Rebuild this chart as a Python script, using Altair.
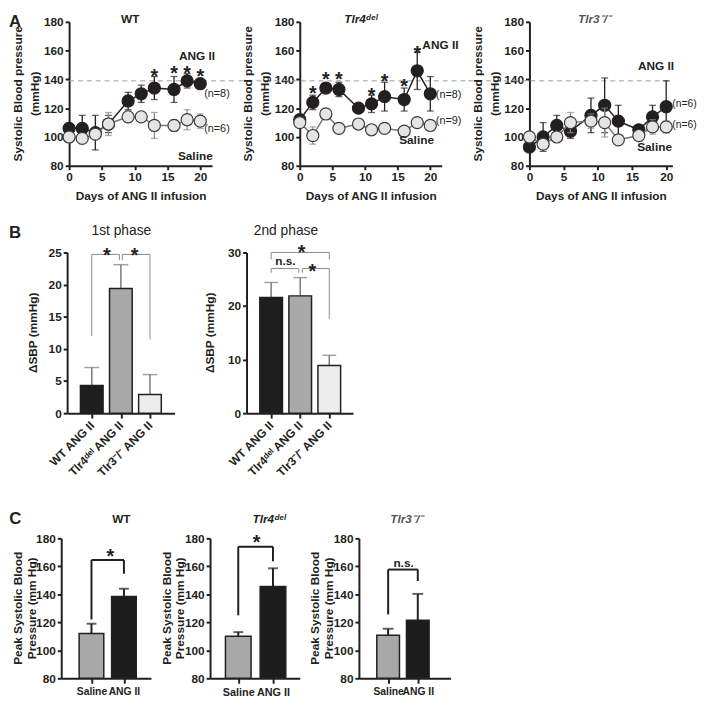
import json
import altair as alt
import pandas as pd

FONT = "Liberation Sans"
INK = "#231f20"

# ---------------- Panel A : time courses ----------------
days = [0, 2, 4, 6, 9, 11, 13, 16, 18, 20]

wt_ang = [106, 106, 103, 109, 125, 130, 134, 133, 139, 137]
wt_ang_err = [2, 9, 12, 6, 6, 6, 8, 9, 5, 3]
wt_sal = [100, 99, 102, 109, 114, 114, 108, 108, 112, 111]
wt_sal_err = [2, 3, 3, 8, 4, 3, 9, 4, 7, 5]
wt_star_days = [13, 16, 18, 20]
wt_star_y = [148, 149.7, 149.7, 148]

t4_ang = [112, 124, 134, 133, 120, 123, 128, 126, 146, 130]
t4_ang_err = [3, 5, 2, 5, 3, 6, 10, 8, 13, 12]
t4_sal = [110, 101, 116, 106, 109, 105, 106, 104, 110, 108]
t4_sal_err = [2, 6, 2, 2, 3, 1, 1, 1, 1, 2]
t4_star_days = [2, 4, 6, 11, 13, 16, 18]
t4_star_y = [136, 145.7, 145.7, 134.3, 144, 141, 163.7]

t3_ang = [93, 100, 108, 104, 115, 122, 111, 105, 114, 121]
t3_ang_err = [3, 10, 7, 5, 12, 19, 11, 2, 8, 18]
t3_sal = [100, 95, 100, 110, 111, 110, 98, 101, 107, 107]
t3_sal_err = [2, 3, 2, 7, 5, 10, 3, 2, 5, 4]

# annotation texts: (text, day, value)
wt_bold = [("ANG II", 19.5, 156), ("Saline", 19.25, 87)]
wt_n = [("(n=8)", 20.6, 130), ("(n=6)", 20.6, 105.5)]
t4_bold = [("ANG II", 21.55, 164), ("Saline", 17.9, 98)]
t4_n = [("(n=8)", 20.85, 129), ("(n=9)", 20.85, 110.8)]
t3_bold = [("ANG II", 18.5, 149), ("Saline", 18.3, 92.7)]
t3_n = [("(n=6)", 20.9, 123), ("(n=6)", 20.9, 108)]

threshold = 139
a_xticks = [0, 5, 10, 15, 20]
a_yticks = [80, 100, 120, 140, 160, 180]

# ---------------- Panel B : delta SBP ----------------
b_cats = ["WT ANG II", "Tlr4\u1d48\u1d49\u02e1 ANG II", "Tlr3\u207b/\u207b ANG II"]
b_colors = ["#1e1e1e", "#a9a9a9", "#ececec"]
b1_vals = [4.3, 19.4, 2.9]
b1_err = [2.8, 3.7, 3.1]
b2_vals = [21.6, 21.9, 8.9]
b2_err = [2.8, 3.4, 1.9]
# bracket segments: x, x2, y, y2
b1_brackets = [
    (0, 0, 12, 24.7), (0, 0.95, 24.7, 24.7), (0.95, 0.95, 23.8, 24.7),
    (1.05, 1.05, 23.8, 24.7), (1.05, 2, 24.7, 24.7), (2, 2, 11.5, 24.7),
]
b1_stars = [(0.52, 25.8), (1.47, 25.8)]
b1_ns = []
b2_brackets = [
    (0, 0, 28.7, 30), (0, 2, 30, 30), (2, 2, 28.7, 30),
    (0, 0, 26.2, 27), (0, 0.95, 27, 27), (0.95, 0.95, 26.2, 27),
    (1.07, 1.07, 26.2, 27), (1.07, 2, 27, 27), (2, 2, 17.6, 27),
]
b2_stars = [(1.05, 31.5), (1.42, 28.0)]
b2_ns = [(0.49, 28.4)]

# ---------------- Panel C : peak SBP ----------------
c_cats = ["Saline", "ANG II"]
c_colors = ["#a8a8a8", "#1c1c1c"]
cwt_vals = [112, 138.5]
cwt_err = [7, 5.5]
ct4_vals = [110, 145.6]
ct4_err = [3, 13]
ct3_vals = [110.8, 121.5]
ct3_err = [4.6, 18.8]
cwt_brackets = [(0, 0, 122, 164.5), (0, 1, 164.5, 164.5), (1, 1, 154.7, 164.5)]
ct4_brackets = [(0, 0, 125, 174), (0, 1, 174, 174), (1, 1, 163.6, 174)]
ct3_brackets = [(0, 0, 125.6, 157.7), (0, 1, 157.7, 157.7), (1, 1, 149.5, 157.7)]
cwt_stars = [(0.58, 173.2)]
ct4_stars = [(0.53, 182.6)]
ct3_ns = [(0.52, 162.4)]

TLR4 = "Tlr4\u1d48\u1d49\u02e1"
TLR3 = "Tlr3\u207b/\u207b"
A_YTITLE = ["Systolic Blood pressure", "(mmHg)"]
B_YTITLE = ["\u0394SBP (mmHg)"]
C_YTITLE = ["Peak Systolic Blood", "Pressure (mm Hg)"]


def text_layer(t, x, y, size, weight="bold", style="normal", color=INK, align="left",
               baseline="alphabetic", opacity=1, angle=0):
    return alt.Chart(pd.DataFrame({"t": [t]})).mark_text(
        fontSize=size, fontWeight=weight, fontStyle=style, align=align, baseline=baseline,
        font=FONT, color=color, opacity=opacity, angle=angle
    ).encode(text="t:N", x=alt.value(x), y=alt.value(y))


def ytitle_layers(lines, xs, height):
    return [text_layer(t, x, height / 2, 12, align="center", baseline="middle", angle=270)
            for t, x in zip(lines, xs)]


def frame_layers(width, height, box):
    """Invisible markers fixing the layout box of a panel: (left, right, top, bottom) offsets."""
    left, right, top, bottom = box
    out = []
    if left is not None:
        out.append(text_layer(".", -left, height / 2, 1, opacity=0, align="left", baseline="top"))
    if right is not None:
        out.append(text_layer(".", width + right, height / 2, 1, opacity=0, align="right", baseline="top"))
    if top is not None:
        out.append(text_layer(".", 0, -top, 1, opacity=0, align="left", baseline="top"))
    if bottom is not None:
        out.append(text_layer(".", 0, height + bottom - 1, 1, opacity=0, align="left", baseline="top"))
    return out


def dummy_view():
    """Empty 1px view at the start of each row so that rows line up by their left edges."""
    return text_layer(".", 0, 0, 1, opacity=0, align="left", baseline="top").properties(width=1, height=1)


def time_panel(title, tstyle, tcolor, tx, ang, ang_err, sal, sal_err, sdays, sy,
               lab_bold, lab_n, n_size, xmax, width, dash_from, dash_to, box, letter=None):
    height = 146
    xs = alt.Scale(domain=[0, xmax], nice=False, zero=False)
    ys = alt.Scale(domain=[80, 180], nice=False, zero=False)
    xax = alt.Axis(values=a_xticks, title="Days of ANG II infusion", titlePadding=8, tickSize=4)
    yax = alt.Axis(values=a_yticks, title=None, tickSize=4)

    def X(f):
        return alt.X(f, type="quantitative", scale=xs, axis=xax)

    def Y(f):
        return alt.Y(f, type="quantitative", scale=ys, axis=yax)

    def frame(v, e):
        return pd.DataFrame({"day": days, "v": v,
                             "lo": [a - b for a, b in zip(v, e)],
                             "hi": [a + b for a, b in zip(v, e)]})

    ang_df = frame(ang, ang_err)
    sal_df = frame(sal, sal_err)
    layers = [alt.Chart(pd.DataFrame({"y": [threshold]})).mark_rule(
        strokeDash=[5, 4], color="#9a9a9a", strokeWidth=1
    ).encode(y=Y("y"), x=alt.value(dash_from), x2=alt.value(dash_to))]

    def series(df, line_c, err_c, fill_c, stroke_c):
        out = []
        out.append(alt.Chart(df).mark_line(color=line_c, strokeWidth=1.5).encode(x=X("day"), y=Y("v")))
        out.append(alt.Chart(df).mark_rule(color=err_c, strokeWidth=1.3).encode(
            x=X("day"), y=Y("lo"), y2=alt.Y2("hi")))
        out.append(alt.Chart(df).transform_fold(["lo", "hi"], as_=["k", "cap"]).mark_tick(
            orient="horizontal", size=7, thickness=1.3, color=err_c
        ).encode(x=X("day"), y=Y("cap:Q")))
        out.append(alt.Chart(df).mark_point(
            shape="circle", filled=True, size=150, fill=fill_c, stroke=stroke_c,
            strokeWidth=1.2, opacity=1
        ).encode(x=X("day"), y=Y("v")))
        return out

    layers += series(ang_df, INK, INK, INK, INK)
    layers += series(sal_df, "#777777", "#8a8a8a", "#e4e4e4", "#3a3a3a")

    if sdays:
        layers.append(alt.Chart(pd.DataFrame({"day": sdays, "v": sy})).mark_text(
            text="*", fontSize=20, fontWeight="bold", font=FONT, color=INK, dy=9
        ).encode(x=X("day"), y=Y("v")))
    layers.append(alt.Chart(pd.DataFrame(lab_bold, columns=["t", "day", "v"])).mark_text(
        fontSize=12, fontWeight="bold", font=FONT, color=INK, align="center", baseline="middle"
    ).encode(x=X("day"), y=Y("v"), text="t:N"))
    layers.append(alt.Chart(pd.DataFrame(lab_n, columns=["t", "day", "v"])).mark_text(
        fontSize=n_size, fontWeight="normal", font=FONT, color=INK, align="left", baseline="middle"
    ).encode(x=X("day"), y=Y("v"), text="t:N"))
    layers.append(text_layer(title, tx, 1, 12, style=tstyle, color=tcolor, align="center"))
    layers += ytitle_layers(A_YTITLE, [-52, -35], height)
    if letter:
        layers.append(text_layer(letter, -61, -8, 17, align="left", baseline="top"))
    layers += frame_layers(width, height, box)
    return alt.layer(*layers).properties(width=width, height=height)


def bar_panel(title, tpos, tsize, tweight, tstyle, tcolor, cats, colors, vals, errs, ydom, yticks,
              ytitle, ytx, xdom, width, height, bar_size, cap_size, err_color, err_w,
              br, br_color, br_w, stars, ns, label_angle, box, letter=None, letter_pos=(0, 0),
              xlabel_size=11):
    xs = alt.Scale(domain=xdom, nice=False, zero=False)
    ys = alt.Scale(domain=ydom, nice=False, zero=False)
    expr = json.dumps(cats, ensure_ascii=False) + "[datum.value]"
    if label_angle:
        xax = alt.Axis(values=list(range(len(cats))), labelExpr=expr, title=None,
                       labelAngle=label_angle, labelAlign="right", labelBaseline="middle",
                       labelPadding=5, labelOverlap=False)
    else:
        xax = alt.Axis(values=list(range(len(cats))), labelExpr=expr, title=None,
                       labelPadding=3, labelOverlap=False, labelFontSize=xlabel_size)
    yax = alt.Axis(values=yticks, title=None, tickSize=4)

    def X(f):
        return alt.X(f, type="quantitative", scale=xs, axis=xax)

    def Y(f):
        return alt.Y(f, type="quantitative", scale=ys, axis=yax)

    df = pd.DataFrame({"pos": list(range(len(cats))), "v": vals,
                       "base": [ydom[0]] * len(cats),
                       "hi": [a + b for a, b in zip(vals, errs)], "c": colors})
    layers = [
        alt.Chart(df).mark_rule(color=err_color, strokeWidth=err_w).encode(
            x=X("pos"), y=Y("v"), y2=alt.Y2("hi")),
        alt.Chart(df).mark_tick(orient="horizontal", size=cap_size, thickness=err_w,
                                color=err_color).encode(x=X("pos"), y=Y("hi")),
        alt.Chart(df).mark_bar(size=bar_size, stroke=INK, strokeWidth=1.5).encode(
            x=X("pos"), y=Y("v"), y2=alt.Y2("base"), color=alt.Color("c:N", scale=None)),
        alt.Chart(pd.DataFrame(br, columns=["x", "x2", "y", "y2"])).mark_rule(
            color=br_color, strokeWidth=br_w).encode(
            x=X("x"), x2=alt.X2("x2"), y=Y("y"), y2=alt.Y2("y2")),
    ]
    if stars:
        layers.append(alt.Chart(pd.DataFrame(stars, columns=["x", "y"])).mark_text(
            text="*", fontSize=20, fontWeight="bold", font=FONT, color=INK, dy=9
        ).encode(x=X("x"), y=Y("y")))
    if ns:
        layers.append(alt.Chart(pd.DataFrame(ns, columns=["x", "y"])).mark_text(
            text="n.s.", fontSize=12, fontWeight="bold", font=FONT, color=INK, baseline="middle"
        ).encode(x=X("x"), y=Y("y")))
    layers.append(text_layer(title, tpos[0], tpos[1], tsize, weight=tweight, style=tstyle,
                             color=tcolor, align="center"))
    layers += ytitle_layers(ytitle, ytx, height)
    if letter:
        layers.append(text_layer(letter, letter_pos[0], letter_pos[1], 17, align="left", baseline="top"))
    layers += frame_layers(width, height, box)
    return alt.layer(*layers).properties(width=width, height=height)


# ---------------- Row A ----------------
a1 = time_panel("WT", "normal", INK, 62, wt_ang, wt_ang_err, wt_sal, wt_sal_err,
                wt_star_days, wt_star_y, wt_bold, wt_n, 11, 21.8, 145, 0, 170,
                (61, 25, 9, 40), letter="A")
a2 = time_panel(TLR4, "italic", INK, 62, t4_ang, t4_ang_err, t4_sal, t4_sal_err,
                t4_star_days, t4_star_y, t4_bold, t4_n, 11, 21.75, 144, -62, 169,
                (62, 25, None, None))
a3 = time_panel(TLR3, "italic", "#555555", 66, t3_ang, t3_ang_err, t3_sal, t3_sal_err,
                [], [], t3_bold, t3_n, 10.5, 20.9, 145, -62, 145,
                (62, None, None, None))
rowA = alt.hconcat(dummy_view(), a1, a2, a3, spacing=0)

# ---------------- Row B ----------------
b1 = bar_panel("1st phase", (55, -18), 14, "normal", "normal", INK, b_cats, b_colors, b1_vals, b1_err,
               [0, 25], [0, 5, 10, 15, 20, 25], B_YTITLE, [-35], [-0.677, 2.677], 109, 163,
               23, 15, "#7a7a7a", 1.5, b1_brackets, "#8a8a8a", 1, b1_stars, b1_ns, 315,
               (59, 23, 48, 74), letter="B", letter_pos=(-59, -28))
b2 = bar_panel("2nd phase", (40, -18), 14, "normal", "normal", INK, b_cats, b_colors, b2_vals, b2_err,
               [0, 30], [0, 10, 20, 30], B_YTITLE, [-37], [-0.677, 2.646], 108, 163,
               23, 14, "#7a7a7a", 1.5, b2_brackets, "#8a8a8a", 1, b2_stars, b2_ns, 315,
               (50, None, None, None))
rowB = alt.hconcat(dummy_view(), b1, b2, spacing=0)

# ---------------- Row C ----------------
c1 = bar_panel("WT", (61, -15.7), 12, "bold", "normal", INK, c_cats, c_colors, cwt_vals, cwt_err,
               [80, 180], a_yticks, C_YTITLE, [-44, -30], [-0.78, 1.68], 91, 142, 25, 10, INK, 2,
               cwt_brackets, INK, 2, cwt_stars, [], 0, (52.7, 3.3, 52.6, None),
               letter="C", letter_pos=(-52.7, -27.6), xlabel_size=10.5)
c2 = bar_panel(TLR4, (60, -15.7), 12, "bold", "italic", INK, c_cats, c_colors, ct4_vals, ct4_err,
               [80, 180], a_yticks, C_YTITLE, [-44, -30], [-0.67, 1.63], 91, 142, 26, 10, INK, 2,
               ct4_brackets, INK, 2, ct4_stars, [], 0, (56, 3.3, None, None))
c3 = bar_panel(TLR3, (48.5, -15.7), 12, "bold", "italic", "#555555", c_cats, c_colors, ct3_vals, ct3_err,
               [80, 180], a_yticks, C_YTITLE, [-44, -30], [-0.82, 1.94], 93, 142, 23, 11, INK, 2,
               ct3_brackets, INK, 2, [], ct3_ns, 0, (56, None, None, None), xlabel_size=10.5)
rowC = alt.hconcat(dummy_view(), c1, c2, c3, spacing=0)

chart = alt.concat(rowA, rowB, rowC, columns=1, spacing=0).properties(
    padding={"left": 0, "top": 0, "right": 0, "bottom": 0}
).configure_view(stroke=None).configure_axis(
    domainColor=INK, domainWidth=2, tickColor=INK, tickWidth=2, tickSize=5,
    labelFont=FONT, labelFontSize=12, labelFontWeight="bold", labelColor=INK,
    titleFont=FONT, titleFontSize=12, titleFontWeight="bold", titleColor=INK,
    grid=False, labelFlush=False, labelPadding=2,
)

chart.save("out.html", embed_options={"renderer": "svg", "actions": False})
